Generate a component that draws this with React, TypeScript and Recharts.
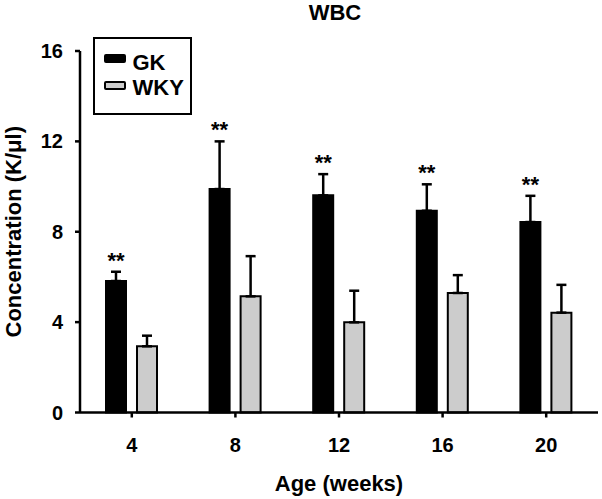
import { BarChart, Bar, XAxis, YAxis, ErrorBar, LabelList, Legend, Label } from 'recharts';

const FONT = '"Liberation Sans", Arial, Helvetica, sans-serif';

const ages = ['4', '8', '12', '16', '20'];
const gkMean = [5.82, 9.89, 9.61, 8.93, 8.43];
const gkErr = [0.41, 2.11, 0.94, 1.17, 1.16];
const wkyMean = [2.93, 5.14, 3.99, 5.29, 4.42];
const wkyErr = [0.47, 1.78, 1.4, 0.79, 1.23];
const gkSig = ['**', '**', '**', '**', '**'];
const yTicks = [0, 4, 8, 12, 16];

const chartData = ages.map((age, i) => ({
    age,
    gk: gkMean[i],
    gkErr: [0, gkErr[i]],
    wky: wkyMean[i],
    wkyErr: [0, wkyErr[i]],
    sig: gkSig[i],
}));

const tickStyle = { fill: '#000', fontSize: 20, fontWeight: 'bold', fontFamily: FONT };

// stars sit just above the top of the GK error bar
const renderStars = (props: any) => {
    const { x, y, width, height, value } = props;
    const i = props.index ?? 0;
    const top = y - (height / gkMean[i]) * gkErr[i];
    return (
        <text x={x + width / 2} y={top - 4} textAnchor="middle" fontSize={22}
              fontWeight="bold" fontFamily={FONT} fill="#000">
            {value}
        </text>
    );
};

const renderYLabel = (props: any) => {
    const vb = props.viewBox;
    const cy = vb.y + vb.height / 2;
    const bx = 21;
    return (
        <text x={bx} y={cy} transform={`rotate(-90, ${bx}, ${cy})`} textAnchor="middle"
              fontSize={22} fontWeight="bold" fontFamily={FONT} fill="#000">
            Concentration (K/μl)
        </text>
    );
};

const legendItems = [
    { name: 'GK', fill: '#000', top: 14.5, textTop: 12.6 },
    { name: 'WKY', fill: '#cccccc', top: 42, textTop: 37.6 },
];

const renderLegend = () => (
    <div style={{
        width: 99, height: 78, border: '2.5px solid #000', boxSizing: 'border-box',
        position: 'relative', background: '#fff',
    }}>
        {legendItems.map((item) => (
            <div key={item.name}>
                <div style={{
                    position: 'absolute', left: 8.5, top: item.top, width: 22, height: 9,
                    boxSizing: 'border-box', border: '2px solid #000', borderRadius: 2,
                    background: item.fill,
                }}/>
                <div style={{
                    position: 'absolute', left: 37.5, top: item.textTop, lineHeight: '22px',
                    fontSize: 22, fontWeight: 'bold', fontFamily: FONT, color: '#000',
                    whiteSpace: 'nowrap',
                }}>
                    {item.name}
                </div>
            </div>
        ))}
    </div>
);

export default function App() {
    return (
        <div style={{ position: 'absolute', left: 0, top: 0, width: 602, height: 499, background: '#fff' }}>
            <div style={{
                position: 'absolute', left: 0, top: 0, width: 670, textAlign: 'center',
                fontFamily: FONT, fontWeight: 'bold', fontSize: 22, color: '#000',
            }}>
                WBC
            </div>
            <BarChart width={602} height={499} data={chartData}
                      margin={{ top: 51, right: 4, left: 0, bottom: 6.5 }}
                      barSize={20} barGap={11}>
                <XAxis dataKey="age" height={80} tick={tickStyle} tickSize={5} tickMargin={20}
                       axisLine={{ stroke: '#000', strokeWidth: 2.5 }}
                       tickLine={{ stroke: '#000', strokeWidth: 2.5 }}>
                    <Label value="Age (weeks)" position="insideBottom" offset={2}
                           fill="#000" fontSize={22} fontWeight="bold" fontFamily={FONT}/>
                </XAxis>
                <YAxis type="number" domain={[0, 16]} ticks={yTicks} width={80} interval={0}
                       tick={tickStyle} tickSize={5} tickMargin={12}
                       axisLine={{ stroke: '#000', strokeWidth: 2.5 }}
                       tickLine={{ stroke: '#000', strokeWidth: 2.5 }}
                       label={{ content: renderYLabel }}/>
                <Legend layout="vertical" align="center" verticalAlign="middle" content={renderLegend}
                        wrapperStyle={{ position: 'absolute', left: 93, top: 37, width: 99, height: 78 }}/>
                <Bar dataKey="gk" name="GK" fill="#000" stroke="#000" strokeWidth={2}
                     isAnimationActive={false}>
                    <ErrorBar dataKey="gkErr" width={5} stroke="#000" strokeWidth={2.5} direction="y"/>
                    <LabelList dataKey="sig" content={renderStars}/>
                </Bar>
                <Bar dataKey="wky" name="WKY" fill="#cccccc" stroke="#000" strokeWidth={2}
                     isAnimationActive={false}>
                    <ErrorBar dataKey="wkyErr" width={5} stroke="#000" strokeWidth={2.5} direction="y"/>
                </Bar>
            </BarChart>
        </div>
    );
}
